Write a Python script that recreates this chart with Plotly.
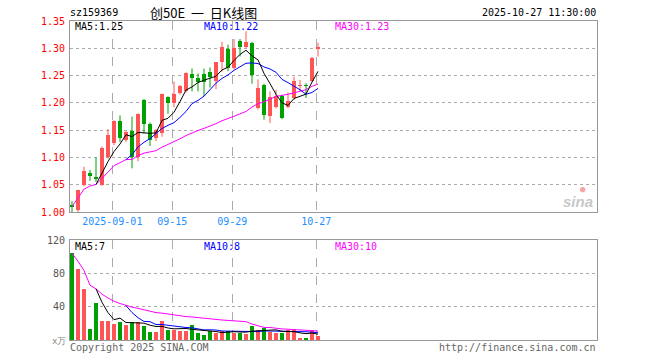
import pandas as pd
import plotly.graph_objects as go

dates = ["08-21", "08-22", "08-25", "08-26", "08-27", "08-28", "08-29",
         "09-01", "09-02", "09-03", "09-04", "09-05", "09-08", "09-09", "09-10", "09-11", "09-12",
         "09-15", "09-16", "09-17", "09-18", "09-19", "09-22", "09-23", "09-24", "09-25", "09-26",
         "09-29", "09-30", "10-09", "10-10", "10-13", "10-14", "10-15", "10-16", "10-17",
         "10-20", "10-21", "10-22", "10-23", "10-24", "10-27"]
opens = [1.013, 1.003, 1.049, 1.072, 1.064, 1.050, 1.100, 1.127, 1.166, 1.132,
         1.149, 1.100, 1.205, 1.161, 1.135, 1.145, 1.210, 1.199, 1.218, 1.222,
         1.253, 1.245, 1.252, 1.256, 1.240, 1.274, 1.299, 1.263, 1.313, 1.303,
         1.310, 1.191, 1.233, 1.176, 1.193, 1.212, 1.192, 1.209, 1.230, 1.233,
         1.240, 1.299]
highs = [1.020, 1.041, 1.083, 1.077, 1.100, 1.120, 1.152, 1.168, 1.177, 1.148,
         1.175, 1.181, 1.207, 1.164, 1.152, 1.217, 1.212, 1.239, 1.233, 1.256,
         1.263, 1.254, 1.263, 1.265, 1.275, 1.312, 1.307, 1.317, 1.317, 1.331,
         1.312, 1.243, 1.235, 1.221, 1.224, 1.215, 1.219, 1.248, 1.242, 1.236,
         1.284, 1.310]
lows = [1.000, 1.000, 1.047, 1.057, 1.055, 1.048, 1.098, 1.122, 1.128, 1.128,
        1.080, 1.093, 1.144, 1.121, 1.130, 1.138, 1.180, 1.192, 1.215, 1.219,
        1.221, 1.221, 1.212, 1.228, 1.225, 1.257, 1.258, 1.261, 1.285, 1.300,
        1.235, 1.188, 1.169, 1.163, 1.190, 1.170, 1.190, 1.206, 1.221, 1.209,
        1.238, 1.285]
closes = [1.010, 1.040, 1.075, 1.066, 1.061, 1.118, 1.142, 1.167, 1.135, 1.146,
          1.101, 1.180, 1.162, 1.132, 1.150, 1.216, 1.199, 1.217, 1.230, 1.255,
          1.245, 1.239, 1.239, 1.247, 1.274, 1.303, 1.263, 1.301, 1.303, 1.312,
          1.251, 1.227, 1.177, 1.210, 1.213, 1.173, 1.204, 1.240, 1.232, 1.231,
          1.283, 1.302]
volumes = [104, 85, 61, 13, 44, 23, 23, 19, 22, 18, 22, 22, 17, 10, 10, 23, 12, 12,
           11, 11, 18, 8, 6, 11, 8, 11, 11, 9, 9, 7, 17, 12, 14, 10, 8, 8, 12, 12,
           3, 3, 12, 5]
date_ticks = ["09-01", "09-15", "09-29", "10-27"]
date_tick_labels = ["2025-09-01", "09-15", "09-29", "10-27"]
price_ticks = [1.00, 1.05, 1.10, 1.15, 1.20, 1.25, 1.30, 1.35]
vol_ticks = [40, 80, 120]

RED = "#FF5555"
GREEN = "#00A000"
GRID = "#ABABAB"
BORDER = "#999999"
MONO = "DejaVu Sans Mono, Liberation Mono, monospace"

df = pd.DataFrame({"o": opens, "h": highs, "l": lows, "c": closes, "v": volumes})
idx = list(range(len(dates)))
df["x"] = idx
up = df["c"] >= df["o"]

ma5 = df["c"].rolling(5).mean()
ma10 = df["c"].rolling(10).mean()
ma30 = df["c"].rolling(30, min_periods=1).mean()
vma5 = df["v"].rolling(5).mean()
vma10 = df["v"].rolling(10).mean()
vma30 = df["v"].rolling(30, min_periods=1).mean()

fig = go.Figure()


def wicks(sub):
    xs, ys = [], []
    for _, r in sub.iterrows():
        xs += [r["x"], r["x"], None]
        ys += [r["l"], r["h"], None]
    return xs, ys


for mask, col in ((up, RED), (~up, GREEN)):
    sub = df[mask]
    wx, wy = wicks(sub)
    fig.add_trace(go.Scatter(x=wx, y=wy, mode="lines", line=dict(color=col, width=1),
                             xaxis="x", yaxis="y", hoverinfo="skip", showlegend=False))
    base = sub[["o", "c"]].min(axis=1)
    height = (sub["c"] - sub["o"]).abs().clip(lower=0.0012)
    fig.add_trace(go.Bar(x=sub["x"], y=height, base=base, width=0.83,
                         marker=dict(color=col, line=dict(width=0)),
                         xaxis="x", yaxis="y", showlegend=False))
    fig.add_trace(go.Bar(x=sub["x"], y=sub["v"], width=0.83,
                         marker=dict(color=col, line=dict(width=0)),
                         xaxis="x2", yaxis="y2", showlegend=False))

for s, col in ((ma30, "#FF00FF"), (ma10, "#0000FF"), (ma5, "#000000")):
    fig.add_trace(go.Scatter(x=idx, y=s, mode="lines", line=dict(color=col, width=1),
                             xaxis="x", yaxis="y", showlegend=False))
for s, col in ((vma30, "#FF00FF"), (vma10, "#0000FF"), (vma5, "#000000")):
    fig.add_trace(go.Scatter(x=idx, y=s, mode="lines", line=dict(color=col, width=1),
                             xaxis="x2", yaxis="y2", showlegend=False))

W, H = 660, 360
xl, xr = 70, 597
tickpos = [dates.index(d) - 0.28 for d in date_ticks]
xrange_ = [-(72 - xl) / 6, (xr - 72) / 6]

common_x = dict(range=xrange_, showline=True, mirror=True, linecolor=BORDER, linewidth=1,
                showgrid=True, gridcolor=GRID, griddash="dash", gridwidth=1,
                tickvals=tickpos, zeroline=False, fixedrange=True, ticks="",
                automargin=False)
common_y = dict(showline=True, mirror=True, linecolor=BORDER, linewidth=1,
                showgrid=True, gridcolor=GRID, griddash="dot", zeroline=False, ticks="",
                automargin=False, ticklabelstandoff=2)
fig.update_layout(
    width=W, height=H, margin=dict(l=0, r=0, t=0, b=0, pad=0),
    paper_bgcolor="white", plot_bgcolor="white", barmode="overlay", bargap=0,
    xaxis=dict(domain=[xl / W, xr / W], anchor="y", ticktext=date_tick_labels,
               tickfont=dict(family=MONO, size=10, color="#1E90FF"), **common_x),
    xaxis2=dict(domain=[xl / W, xr / W], anchor="y2", showticklabels=False, **common_x),
    yaxis=dict(domain=[1 - 212 / H, 1 - 21 / H], anchor="x", range=[1.00, 1.35],
               tickvals=price_ticks, ticktext=[f"{v:.2f}" for v in price_ticks],
               tickfont=dict(family=MONO, size=10, color="#FF0000"), **common_y),
    yaxis2=dict(domain=[1 - 340 / H, 1 - 240 / H], anchor="x2", range=[0, 120],
                tickvals=vol_ticks, ticktext=[str(v) for v in vol_ticks],
                tickfont=dict(family=MONO, size=10, color="#555555"), **common_y),
)


def txt(x, y, s, color="#000000", size=10, family=MONO, xanchor="left", italic=False):
    fig.add_annotation(x=x / W, y=1 - y / H, xref="paper", yref="paper", text=s,
                       showarrow=False, xanchor=xanchor, yanchor="middle",
                       font=dict(family=family, size=size, color=color,
                                 style="italic" if italic else "normal"))


txt(68, 13, "sz159369")
txt(148, 13, "创50E  一  日K线图", size=13, family="Noto Sans CJK SC")
txt(598, 13, "2025-10-27 11:30:00", xanchor="right")
txt(73, 27, "MA5:1.25")
txt(202, 27, "MA10:1.22", color="#0000FF")
txt(333, 27, "MA30:1.23", color="#FF00FF")
txt(73, 246, "MA5:7")
txt(202, 246, "MA10:8", color="#0000FF")
txt(333, 246, "MA30:10", color="#FF00FF")
txt(68, 347, "Copyright 2025 SINA.COM", color="#666666")
txt(598, 347, "http://finance.sina.com.cn", color="#666666", xanchor="right")
txt(68, 341, "x万", color="#888888", size=9, xanchor="right")
txt(583, 189, "●", color="#F4A6A6", size=9, xanchor="center")
txt(595, 201, "<b>sina</b>", color="#C8C8C8", size=15, family="Liberation Sans",
    xanchor="right", italic=True)

fig.write_html("out.html", config={"displayModeBar": False, "staticPlot": True},
               post_script="document.body.style.margin='0';document.body.style.padding='0';")
